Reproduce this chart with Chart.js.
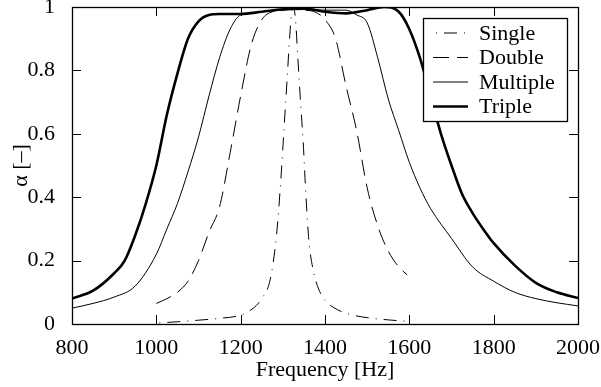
<!DOCTYPE html>
<html>
<head>
<meta charset="utf-8">
<script src="https://cdn.jsdelivr.net/npm/chart.js@4"></script>
<style>
  body { margin: 0; background: #fff; }
  canvas { display: block; }
</style>
</head>
<body>
<canvas id="c" width="601" height="387"></canvas>
<script>
// absorption curves
const singleFreq  = [1000,1050,1100,1150,1200,1230,1250,1270,1285,1295,1303,1310,1316,1320,1325,1330,1336,1342,1348,1355,1362,1372,1385,1400,1430,1460,1500,1550,1600]
const singleAlpha = [0.003,0.007,0.012,0.018,0.028,0.05,0.08,0.14,0.28,0.45,0.62,0.77,0.9,0.97,1.0,0.96,0.83,0.7,0.58,0.4,0.26,0.17,0.11,0.075,0.045,0.03,0.02,0.013,0.008]

const doubleFreq  = [1000,1025,1050,1075,1100,1125,1150,1175,1200,1225,1250,1275,1300,1325,1350,1375,1400,1425,1450,1475,1500,1525,1550,1575,1595]
const doubleAlpha = [0.065,0.08,0.1,0.135,0.2,0.29,0.37,0.54,0.72,0.88,0.96,0.985,0.99,0.995,0.99,0.985,0.96,0.9,0.75,0.61,0.43,0.31,0.23,0.18,0.155]

const multipleFreq  = [800,850,900,950,1000,1025,1050,1075,1100,1125,1150,1175,1200,1225,1250,1300,1350,1400,1450,1475,1500,1525,1550,1575,1600,1625,1650,1700,1750,1800,1850,1900,1950,2000]
const multipleAlpha = [0.05,0.065,0.085,0.12,0.22,0.3,0.38,0.48,0.59,0.72,0.84,0.93,0.975,0.98,0.985,0.99,0.995,0.99,0.99,0.975,0.95,0.84,0.71,0.61,0.51,0.43,0.365,0.27,0.18,0.135,0.1,0.08,0.067,0.057]

const tripleFreq  = [800,850,900,925,950,975,1000,1025,1050,1075,1100,1125,1150,1200,1250,1300,1350,1400,1450,1500,1540,1575,1600,1625,1650,1675,1700,1725,1750,1775,1800,1850,1900,1950,2000]
const tripleAlpha = [0.08,0.105,0.16,0.2,0.28,0.38,0.5,0.66,0.79,0.9,0.955,0.975,0.978,0.978,0.985,0.993,0.995,0.985,0.98,0.99,1.0,0.985,0.93,0.84,0.72,0.6,0.5,0.41,0.35,0.3,0.255,0.185,0.13,0.1,0.082]

const seriesNames = ['Single','Double','Multiple','Triple']
const xTicks = [800,1000,1200,1400,1600,1800,2000]
const yTicks = [0,0.2,0.4,0.6,0.8,1]

const serif = '"Liberation Serif", "Times New Roman", serif'

function pts(xs, ys){
    return xs.map((x,i) => ({x: x, y: ys[i]}))
}

// keep the plot area where the picture has it, labels may overhang
function noPad(s){
    s.paddingTop = 0; s.paddingBottom = 0; s.paddingLeft = 0; s.paddingRight = 0
}

// inward ticks on all four sides, the frame, and the boxed legend
const frameAndLegend = {
    id: 'frameAndLegend',
    afterDatasetsDraw(chart){
        const {ctx, chartArea: a, scales: {x, y}} = chart
        const tl = 9
        ctx.save()
        ctx.strokeStyle = '#000'
        ctx.lineWidth = 1
        ctx.setLineDash([])
        ctx.beginPath()
        xTicks.forEach(v => {
            const px = Math.round(x.getPixelForValue(v)) + 0.5
            ctx.moveTo(px, a.bottom); ctx.lineTo(px, a.bottom - tl)
            ctx.moveTo(px, a.top); ctx.lineTo(px, a.top + tl)
        })
        yTicks.forEach(v => {
            const py = Math.round(y.getPixelForValue(v)) + 0.5
            ctx.moveTo(a.left, py); ctx.lineTo(a.left + tl, py)
            ctx.moveTo(a.right, py); ctx.lineTo(a.right - tl, py)
        })
        ctx.stroke()
        ctx.lineWidth = 1.3
        ctx.strokeRect(Math.round(a.left) + 0.5, Math.round(a.top) + 0.5, Math.round(a.right - a.left), Math.round(a.bottom - a.top))

        // legend box
        const bx = 423.5, by = 18.5, bw = 144, bh = 103
        ctx.fillStyle = '#fff'
        ctx.fillRect(bx, by, bw, bh)
        ctx.lineWidth = 1.3
        ctx.strokeRect(bx, by, bw, bh)
        ctx.font = '22px ' + serif
        ctx.textBaseline = 'middle'
        ctx.fillStyle = '#000'
        chart.data.datasets.forEach((ds, i) => {
            const ly = 33 + i * 24.5
            ctx.lineWidth = ds.borderWidth
            ctx.setLineDash(ds.borderDash || [])
            ctx.lineDashOffset = ds.borderDashOffset || 0
            ctx.beginPath()
            ctx.moveTo(433, ly); ctx.lineTo(468, ly)
            ctx.stroke()
            ctx.fillText(ds.label, 479, ly + 1)
        })
        ctx.restore()
    }
}

const ctx = document.getElementById('c').getContext('2d')
const myChart = new Chart(ctx, {
    type: 'line',
    data: {
        datasets: [
            {label: seriesNames[0], data: pts(singleFreq, singleAlpha), borderColor: '#000', borderWidth: 1, borderDash: [13,7,1,7], borderDashOffset: 17},
            {label: seriesNames[1], data: pts(doubleFreq, doubleAlpha), borderColor: '#000', borderWidth: 1, borderDash: [16,8]},
            {label: seriesNames[2], data: pts(multipleFreq, multipleAlpha), borderColor: '#000', borderWidth: 1},
            {label: seriesNames[3], data: pts(tripleFreq, tripleAlpha), borderColor: '#000', borderWidth: 2.6}
        ]
    },
    options: {
        responsive: false,
        animation: false,
        devicePixelRatio: 1,
        layout: {padding: {top: 7, right: 23, left: 0, bottom: 0}},
        elements: {
            point: {radius: 0},
            line: {cubicInterpolationMode: 'monotone', fill: false}
        },
        plugins: {
            legend: {display: false},
            tooltip: {enabled: false}
        },
        scales: {
            x: {
                type: 'linear',
                min: 800,
                max: 2000,
                afterBuildTicks: s => { s.ticks = xTicks.map(v => ({value: v})) },
                afterFit: s => { s.height = 63; noPad(s) },
                grid: {display: false},
                border: {display: false},
                ticks: {color: '#000', padding: 5, autoSkip: false, maxRotation: 0, callback: v => String(v), font: {family: serif, size: 22, lineHeight: 1}},
                title: {display: true, text: 'Frequency [Hz]', color: '#000', padding: {top: 0, bottom: 6}, font: {family: serif, size: 22, lineHeight: 1}}
            },
            y: {
                min: 0,
                max: 1,
                afterBuildTicks: s => { s.ticks = yTicks.map(v => ({value: v})) },
                afterFit: s => { s.width = 72; noPad(s) },
                grid: {display: false},
                border: {display: false},
                ticks: {color: '#000', padding: 9, autoSkip: false, callback: v => String(v), font: {family: serif, size: 22, lineHeight: 1}},
                title: {display: true, text: 'α [–]', color: '#000', padding: {top: 10, bottom: 0}, font: {family: serif, size: 22, lineHeight: 1}}
            }
        }
    },
    plugins: [frameAndLegend]
})
</script>
</body>
</html>
